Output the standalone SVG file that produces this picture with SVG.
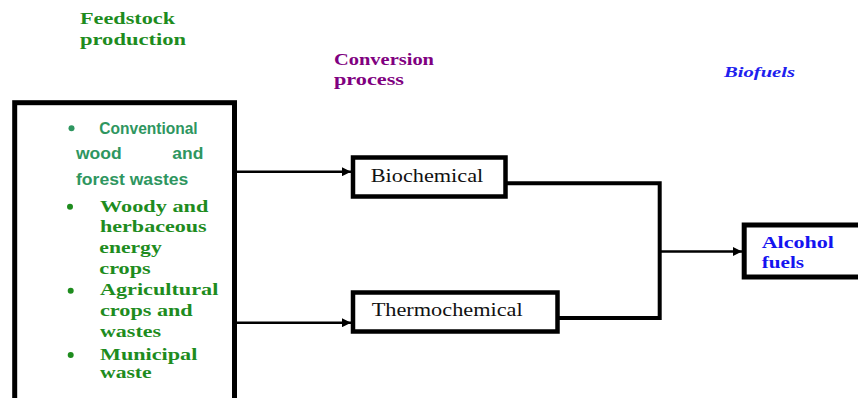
<svg xmlns="http://www.w3.org/2000/svg" width="858" height="398" viewBox="0 0 858 398">
<style>
.box{fill:#fff;stroke:#000;stroke-width:5}
.pbox{fill:#fff;stroke:#000;stroke-width:4.5}
.thin{fill:none;stroke:#000;stroke-width:2.5}
.thick{fill:none;stroke:#000;stroke-width:4}
.hdr{font-family:"Liberation Serif",serif;font-weight:bold;font-size:16.5px}
.green{fill:#1e8c1e}
.sans{font-family:"Liberation Sans","Open Sans",sans-serif;font-weight:bold;font-size:16px;fill:#2e9660}
.ser{font-family:"Liberation Serif",serif;font-weight:bold;font-size:17px;fill:#1e8c1e}
.proc{font-family:"Liberation Serif",serif;font-size:18px;fill:#111}
.blue{font-family:"Liberation Serif",serif;font-weight:bold;font-size:17px;fill:#1414f0}
</style>
<defs>
<marker id="arr" markerWidth="9" markerHeight="9" refX="9" refY="4.5" orient="auto" markerUnits="userSpaceOnUse">
<path d="M0,0 L9,4.5 L0,9 Z" fill="#000"/>
</marker>
</defs>
<rect width="858" height="398" fill="#fff"/>
<g id="headers">
<text class="hdr green" x="80" y="24" textLength="95" lengthAdjust="spacingAndGlyphs">Feedstock</text>
<text class="hdr green" x="80" y="45" textLength="106" lengthAdjust="spacingAndGlyphs">production</text>
<text class="hdr" fill="#800080" x="334" y="65" textLength="100" lengthAdjust="spacingAndGlyphs">Conversion</text>
<text class="hdr" fill="#800080" x="334" y="85" textLength="70" lengthAdjust="spacingAndGlyphs">process</text>
<text x="724" y="77" font-family="Liberation Serif,serif" font-weight="bold" font-style="italic" font-size="15" fill="#2020ee" textLength="71" lengthAdjust="spacingAndGlyphs">Biofuels</text>
</g>
<g id="connectors">
<line class="thin" x1="237" y1="171.7" x2="351" y2="171.7" marker-end="url(#arr)"/>
<line class="thin" x1="237" y1="322.7" x2="351" y2="322.7" marker-end="url(#arr)"/>
<polyline class="thick" points="507,183.3 659.7,183.3 659.7,318 559,318"/>
<line class="thin" x1="661" y1="251.5" x2="742" y2="251.5" marker-end="url(#arr)"/>
</g>
<g id="feedstock">
<rect class="box" x="14.7" y="102.7" width="219.8" height="320"/>
<circle cx="71.5" cy="128.3" r="3" fill="#2e9660"/>
<text class="sans" x="99.3" y="134" textLength="98.4" lengthAdjust="spacingAndGlyphs">Conventional</text>
<text class="sans" x="76" y="159.3" textLength="45.7" lengthAdjust="spacingAndGlyphs">wood</text>
<text class="sans" x="172.3" y="159.3" textLength="31" lengthAdjust="spacingAndGlyphs">and</text>
<text class="sans" x="76" y="185" textLength="112.3" lengthAdjust="spacingAndGlyphs">forest wastes</text>
<circle cx="70" cy="206.7" r="3" fill="#1e8c1e"/>
<text class="ser" x="100" y="211.7" textLength="108.3" lengthAdjust="spacingAndGlyphs">Woody and</text>
<text class="ser" x="100" y="232" textLength="106.7" lengthAdjust="spacingAndGlyphs">herbaceous</text>
<text class="ser" x="99.3" y="253" textLength="62.4" lengthAdjust="spacingAndGlyphs">energy</text>
<text class="ser" x="99.3" y="273.5" textLength="51.4" lengthAdjust="spacingAndGlyphs">crops</text>
<circle cx="70.7" cy="290.7" r="3" fill="#1e8c1e"/>
<text class="ser" x="100" y="295" textLength="118.3" lengthAdjust="spacingAndGlyphs">Agricultural</text>
<text class="ser" x="100" y="315.5" textLength="92.7" lengthAdjust="spacingAndGlyphs">crops and</text>
<text class="ser" x="100" y="336.7" textLength="61" lengthAdjust="spacingAndGlyphs">wastes</text>
<circle cx="70.7" cy="355" r="3" fill="#1e8c1e"/>
<text class="ser" x="100" y="360" textLength="97.3" lengthAdjust="spacingAndGlyphs">Municipal</text>
<text class="ser" x="100" y="378.3" textLength="51.7" lengthAdjust="spacingAndGlyphs">waste</text>
</g>
<g id="biochemical">
<rect class="pbox" x="353" y="157.5" width="152.5" height="39"/>
<text class="proc" x="370.7" y="181.7" textLength="112.6" lengthAdjust="spacingAndGlyphs">Biochemical</text>
</g>
<g id="thermochemical">
<rect class="pbox" x="353" y="292.5" width="204.5" height="39"/>
<text class="proc" x="371.7" y="316" textLength="151" lengthAdjust="spacingAndGlyphs">Thermochemical</text>
</g>
<g id="alcohol">
<rect class="box" x="744.2" y="225" width="130" height="52"/>
<text class="blue" x="761.7" y="248.3" textLength="72.3" lengthAdjust="spacingAndGlyphs">Alcohol</text>
<text class="blue" x="761.7" y="268.3" textLength="42.3" lengthAdjust="spacingAndGlyphs">fuels</text>
</g>
</svg>
